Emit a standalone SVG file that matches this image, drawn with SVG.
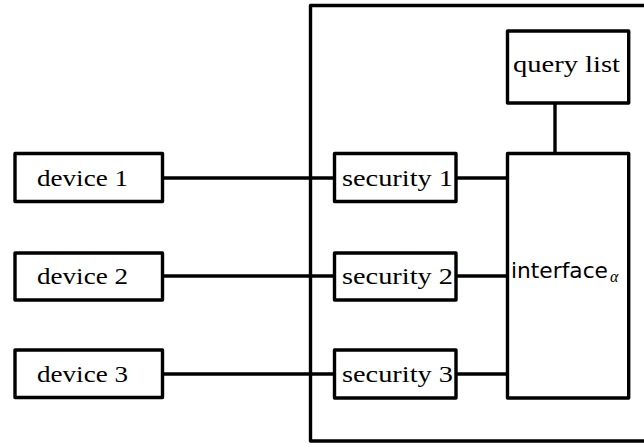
<svg xmlns="http://www.w3.org/2000/svg" width="644" height="447" viewBox="0 0 644 447">
<style>
.box{fill:#fff;stroke:#000;stroke-width:3.4;stroke-linejoin:round}
.ln{stroke:#000;stroke-width:3.4;fill:none}
.t{font-family:'Liberation Serif','DejaVu Serif','Times New Roman',serif;font-size:23.5px;fill:#000}
.s{font-family:'DejaVu Sans','Liberation Sans',sans-serif;font-size:21px;fill:#000}
.a{font-family:'Liberation Serif','DejaVu Serif',serif;font-style:italic;font-size:16px;fill:#000}
</style>
<g id="container"><rect class="box" x="310.5" y="5.5" width="345" height="435.5" style="fill:none"/></g>
<g id="connectors">
<line class="ln" x1="162.5" y1="178" x2="334.5" y2="178"/>
<line class="ln" x1="162.5" y1="276" x2="334.5" y2="276"/>
<line class="ln" x1="162.5" y1="374" x2="334.5" y2="374"/>
<line class="ln" x1="456" y1="178" x2="507.5" y2="178"/>
<line class="ln" x1="456" y1="276" x2="507.5" y2="276"/>
<line class="ln" x1="456" y1="374" x2="507.5" y2="374"/>
<line class="ln" x1="555" y1="103" x2="555" y2="153.5"/>
</g>
<g id="device1"><rect class="box" x="15" y="153.5" width="147.5" height="48"/><text class="t" x="37" y="186" textLength="91" lengthAdjust="spacingAndGlyphs">device 1</text></g>
<g id="device2"><rect class="box" x="15" y="253" width="147.5" height="47"/><text class="t" x="37" y="284" textLength="91" lengthAdjust="spacingAndGlyphs">device 2</text></g>
<g id="device3"><rect class="box" x="15" y="350" width="147.5" height="47.5"/><text class="t" x="37" y="382" textLength="91" lengthAdjust="spacingAndGlyphs">device 3</text></g>
<g id="security1"><rect class="box" x="334.5" y="153.5" width="121.5" height="48"/><text class="t" x="342" y="186" textLength="111" lengthAdjust="spacingAndGlyphs">security 1</text></g>
<g id="security2"><rect class="box" x="334.5" y="253" width="121.5" height="47"/><text class="t" x="342" y="284" textLength="111" lengthAdjust="spacingAndGlyphs">security 2</text></g>
<g id="security3"><rect class="box" x="334.5" y="350" width="121.5" height="48"/><text class="t" x="342" y="382" textLength="111" lengthAdjust="spacingAndGlyphs">security 3</text></g>
<g id="querylist"><rect class="box" x="507.5" y="31" width="121.2" height="72"/><text class="t" x="513" y="71.5" textLength="107" lengthAdjust="spacingAndGlyphs">query list</text></g>
<g id="interface"><rect class="box" x="507.5" y="153.5" width="121.2" height="244.5"/><text class="s" x="511" y="277.5" textLength="97" lengthAdjust="spacingAndGlyphs">interface</text><text class="a" x="610" y="282">α</text></g>
</svg>
